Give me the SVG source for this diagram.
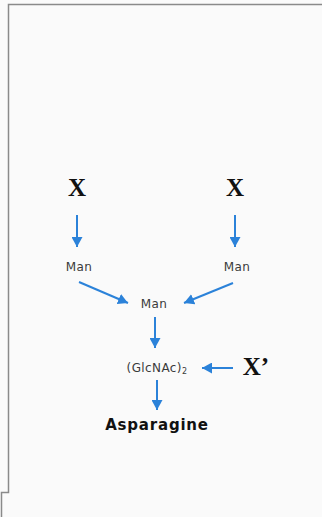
<svg xmlns="http://www.w3.org/2000/svg" width="322" height="517" viewBox="0 0 322 517">
<defs>
<marker id="ah" markerWidth="11" markerHeight="11" refX="10" refY="5.5" orient="auto" markerUnits="userSpaceOnUse">
<path d="M0,0 L10,5.5 L0,11 Z" fill="#2b82d9"/>
</marker>
<style>
.ln{stroke:#2b82d9;stroke-width:2;fill:none;marker-end:url(#ah)}
.x{font-family:"Liberation Serif",serif;font-weight:bold;font-size:25px;fill:#111;text-anchor:middle}
.m{font-family:"DejaVu Sans",sans-serif;font-size:12px;fill:#3a3a3a;text-anchor:middle;letter-spacing:0.4px}
.b{font-family:"DejaVu Sans",sans-serif;font-weight:bold;font-size:15px;fill:#111;text-anchor:middle;letter-spacing:0.8px}
.fr{stroke:#8a8a8a;stroke-width:1.5;fill:none}
</style>
</defs>
<rect width="322" height="517" fill="#fafafa"/>
<path class="fr" d="M322,4.5 H8.5 V492.5 H1.5 V517"/>
<g id="nodes">
<g id="x1"><text class="x" x="77" y="196">X</text></g>
<g id="x2"><text class="x" x="235" y="196">X</text></g>
<g id="man1"><text class="m" x="79" y="271">Man</text></g>
<g id="man2"><text class="m" x="237" y="271">Man</text></g>
<g id="man3"><text class="m" x="154" y="308">Man</text></g>
<g id="glcnac"><text class="m" x="157" y="372" fill="#555">(GlcNAc)<tspan font-size="8" dy="2">2</tspan></text></g>
<g id="xp"><text class="x" x="256" y="375">X’</text></g>
<g id="asn"><text class="b" x="157" y="430">Asparagine</text></g>
</g>
<g id="connectors">
<line class="ln" x1="77" y1="215" x2="77" y2="247"/>
<line class="ln" x1="235" y1="215" x2="235" y2="247"/>
<line class="ln" x1="79" y1="282" x2="128" y2="303"/>
<line class="ln" x1="233" y1="283" x2="184" y2="303"/>
<line class="ln" x1="155" y1="317" x2="155" y2="348"/>
<line class="ln" x1="233" y1="368" x2="202" y2="368"/>
<line class="ln" x1="157" y1="380" x2="157" y2="410"/>
</g>
</svg>
